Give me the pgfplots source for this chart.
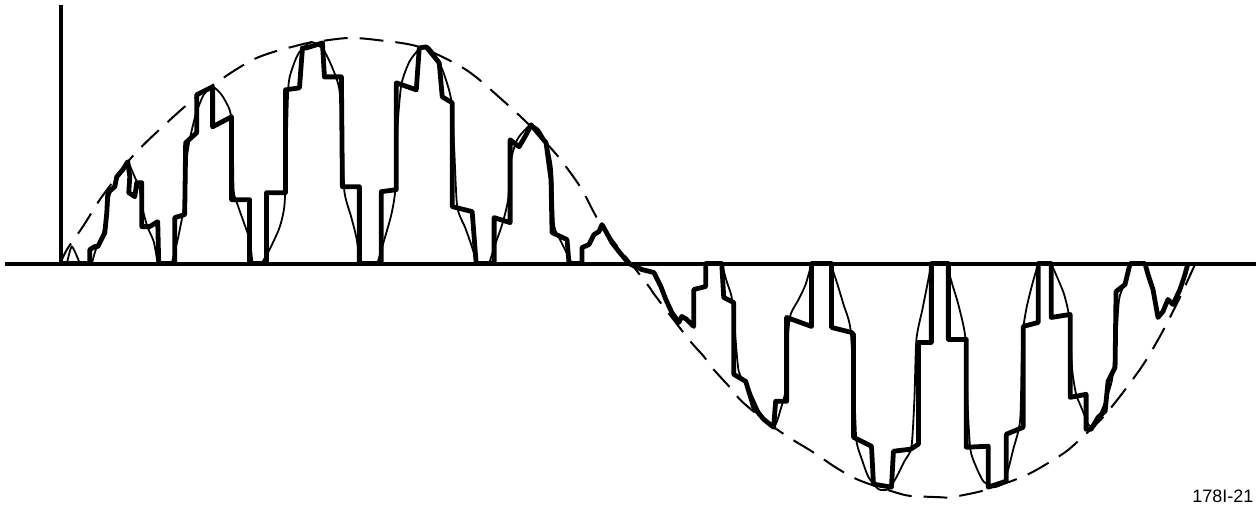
\documentclass[border=0pt]{standalone}
\usepackage{pgfplots}
\pgfplotsset{compat=1.18}
\usepackage{fontspec}
\setsansfont{Liberation Sans}
\begin{document}
\begin{tikzpicture}
\begin{axis}[
  width=630pt, height=257.5pt, scale only axis,
  xmin=0, xmax=1260, ymin=0, ymax=515, y dir=reverse,
  axis line style={draw=none}, xtick=\empty, ytick=\empty,
  clip=false,
  thinlobe/.style={black, line width=0.9pt, smooth, tension=0.4},
]
% axes
\addplot[black, line width=2pt] coordinates {(5,264) (1258,264)};
\addplot[black, line width=2pt] coordinates {(61,5) (61,266)};
% dashed envelope
\addplot[black, line width=1pt, dash pattern=on 12pt off 6pt, smooth, tension=0.5] coordinates {
(60,265) (67,250) (83,227) (100,200) (117,177) (128,162) (150,139) (197,97) (253,60) (300,45) (323,41) (350,38) (377,40) (420,47) (467,70) (503,100) (530,125) (555,152) (567,167) (583,190) (602,225) (633,265)
(650,287) (657,297) (690,340) (705,357) (713,368) (733,390) (743,402) (767,422) (790,438) (813,452) (840,470) (863,482) (903,495) (917,497) (940,498) (953,498) (983,492) (1013,482) (1030,475) (1043,468) (1067,453) (1082,440) (1103,420) (1122,397) (1142,370) (1148,361) (1163,335) (1180,302) (1197,265)
};
% thin lobes
\addplot[thinlobe] coordinates {(67,264) (72,247) (80,264)};
\addplot[thinlobe] coordinates {(92,264) (96,250) (102,238) (107,215) (110,195) (116,182) (122,170) (128,163) (134,175) (140,190) (143,210) (148,228) (154,242) (158,264)};
\addplot[thinlobe] coordinates {(172,264) (178,240) (183,215) (186,195) (187,160) (190,140) (196,115) (204,95) (213,87) (222,95) (230,110) (233,130) (234,190) (238,205) (245,225) (250,240) (253,264)};
\addplot[thinlobe] coordinates {(262,264) (270,250) (280,228) (285,205) (287,150) (289,85) (294,65) (300,52) (312,42) (324,50) (333,68) (340,90) (343,140) (345,192) (352,218) (357,238) (361,264)};
\addplot[thinlobe] coordinates {(378,264) (385,240) (392,215) (396,190) (398,130) (402,85) (410,62) (420,49) (428,46) (436,55) (444,72) (452,100) (455,150) (458,207) (466,228) (472,245) (478,264)};
\addplot[thinlobe] coordinates {(490,264) (496,245) (503,225) (509,200) (512,160) (518,140) (526,130) (532,125) (540,130) (548,145) (553,170) (555,225) (561,240) (567,252) (573,264)};
\addplot[thinlobe] coordinates {(723,264) (728,282) (733,298) (736,330) (740,372) (748,385) (755,400) (762,415) (770,425) (777,425) (782,410) (787,390) (789,340) (792,315) (800,300) (807,285) (813,264)};
\addplot[thinlobe] coordinates {(832,264) (838,282) (845,305) (852,330) (856,400) (858,442) (864,462) (870,478) (880,490) (890,490) (898,478) (906,462) (913,448) (916,400) (918,340) (924,310) (929,285) (933,264)};
\addplot[thinlobe] coordinates {(948,264) (954,285) (960,305) (967,338) (969,400) (972,450) (978,468) (985,482) (995,488) (1005,484) (1010,470) (1015,450) (1022,420) (1024,340) (1028,310) (1034,285) (1040,264)};
\addplot[thinlobe] coordinates {(1053,264) (1060,280) (1066,295) (1071,318) (1074,370) (1078,395) (1084,410) (1090,425) (1096,428) (1102,415) (1108,400) (1114,380) (1118,340) (1121,300) (1126,285) (1132,264)};
% thick stepped waveform
\addplot[black, line width=2.4pt, line join=round] coordinates {
(62,264) (90,264) (90,250) (95,247) (98,247) (105,233) (107,213) (108,193) (115,187) (117,177) (123,170) (128,162) (130,177) (129,193) (135,197) (137,183) (142,183) (142,227) (150,227) (158,222) (159,264)
(175,264) (175,218) (185,215) (186,143) (197,133) (197,95) (213,87) (213,127) (232,117) (232,200) (250,200) (250,264)
(267,264) (267,193) (286,193) (286,90) (300,88) (303,48) (307,48) (323,43) (325,77) (342,77) (343,187) (360,187) (360,264)
(382,264) (382,192) (397,190) (397,83) (417,90) (420,48) (427,47) (440,63) (443,97) (453,103) (453,207) (473,212) (477,264)
(495,264) (495,218) (511,223) (511,140) (520,147) (527,135) (532,125) (547,143) (552,180) (553,233) (568,240) (570,264)
(583,264) (583,248) (590,245) (595,235) (600,232) (603,225) (607,232) (613,243) (620,252) (630,264)
(643,270) (655,273) (662,287) (667,300) (673,313) (680,323) (683,317) (688,320) (695,327) (695,290) (707,287) (707,264)
(723,264) (725,298) (735,303) (735,375) (747,382) (755,408) (765,420) (775,428) (777,402) (788,402) (788,318) (813,327) (813,264)
(833,264) (833,328) (853,333) (855,335) (855,438) (873,447) (875,485) (893,488) (895,452) (912,450) (920,445) (920,343) (933,343) (933,264)
(950,264) (950,340) (968,340) (968,448) (990,447) (990,488) (1008,482) (1008,435) (1025,428) (1025,327) (1040,323) (1040,264)
(1053,264) (1053,318) (1072,315) (1072,398) (1088,395) (1088,430) (1093,430) (1100,418) (1107,412) (1110,382) (1117,368) (1118,292) (1127,285) (1132,264)
(1147,264) (1150,275) (1155,290) (1160,318) (1165,312) (1170,300) (1175,305) (1182,290) (1187,275) (1190,264)
};
\node[font=\sffamily\fontsize{9}{10}\selectfont] at (axis cs:1225,497) {178I-21};
\end{axis}
\end{tikzpicture}
\end{document}
